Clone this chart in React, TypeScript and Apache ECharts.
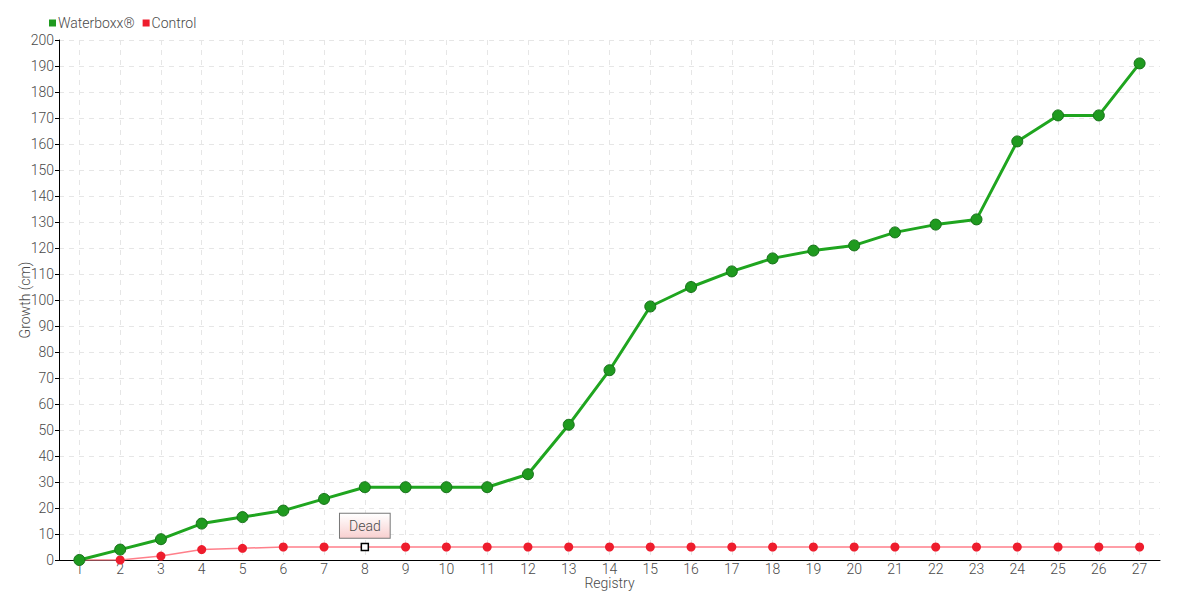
import React, { useEffect, useRef } from "react";
import * as echarts from "echarts";

const registry = ["1","2","3","4","5","6","7","8","9","10","11","12","13","14","15","16","17","18","19","20","21","22","23","24","25","26","27"];
const waterboxx = [0, 4, 8, 14, 16.5, 19, 23.5, 28, 28, 28, 28, 33, 52, 73, 97.5, 105, 111, 116, 119, 121, 126, 129, 131, 161, 171, 171, 191];
const control = [0, 0, 1.5, 4, 4.5, 5, 5, 5, 5, 5, 5, 5, 5, 5, 5, 5, 5, 5, 5, 5, 5, 5, 5, 5, 5, 5, 5];
const deadIndex = 7;
const deadLabel = "Dead";

const FONT = "Roboto, 'Noto Sans', sans-serif";
const TXT = "#4a4a4a";

export default function App() {
  const ref = useRef<HTMLDivElement>(null);
  useEffect(() => {
    const chart = echarts.init(ref.current!, null, { renderer: "svg" });
    const controlData = control.map((v, i) =>
      i === deadIndex
        ? {
            value: v,
            symbol: "rect",
            symbolSize: 7,
            itemStyle: { color: "#ffffff", borderColor: "#000000", borderWidth: 1.5 },
            label: {
              show: true,
              position: "top",
              distance: 5,
              formatter: deadLabel,
              fontFamily: FONT,
              fontSize: 14,
              fontWeight: 300,
              color: TXT,
              padding: [5, 9, 5, 9],
              borderColor: "#777",
              borderWidth: 1,
              backgroundColor: new echarts.graphic.LinearGradient(0, 0, 0, 1, [
                { offset: 0, color: "#ffffff" },
                { offset: 1, color: "#f8d0d0" },
              ]),
            },
          }
        : v
    );
    chart.setOption({
      animation: false,
      textStyle: { fontFamily: FONT },
      legend: {
        left: 44,
        top: 11,
        itemWidth: 7,
        itemHeight: 7,
        itemGap: 8,
        icon: "rect",
        itemStyle: { borderWidth: 0 },
        textStyle: { fontFamily: FONT, fontSize: 14, fontWeight: 300, color: TXT, padding: [0, 0, 0, -3] },
        data: ["Waterboxx®", "Control"],
      },
      grid: { left: 59, right: 20, top: 40, bottom: 40 },
      xAxis: {
        type: "category",
        data: registry,
        boundaryGap: true,
        name: "Registry",
        nameLocation: "middle",
        nameGap: 16,
        nameMoveOverlap: false,
        nameTextStyle: { fontFamily: FONT, fontSize: 14, fontWeight: 300, color: TXT },
        axisLine: { lineStyle: { color: "#000", width: 1 } },
        axisTick: { alignWithLabel: true, length: 4, lineStyle: { color: "#555" } },
        axisLabel: { fontFamily: FONT, fontSize: 14, fontWeight: 300, color: TXT, margin: 2, interval: 0 },
        splitLine: { show: true, alignWithLabel: true, lineStyle: { color: "#e6e6e6", type: [5, 5] } },
      },
      yAxis: {
        type: "value",
        min: 0,
        max: 200,
        interval: 10,
        name: "Growth (cm)",
        nameLocation: "middle",
        nameGap: 27,
        nameMoveOverlap: false,
        nameTextStyle: { fontFamily: FONT, fontSize: 14, fontWeight: 300, color: TXT },
        axisLine: { show: true, lineStyle: { color: "#000", width: 1 } },
        axisTick: { show: true, length: 4, lineStyle: { color: "#000" } },
        axisLabel: { fontFamily: FONT, fontSize: 14, fontWeight: 300, color: TXT, margin: 5 },
        splitLine: { show: true, lineStyle: { color: "#e6e6e6", type: [5, 5] } },
      },
      series: [
        {
          name: "Waterboxx®",
          type: "line",
          data: waterboxx,
          symbol: "circle",
          symbolSize: 11,
          color: "#1fa51f",
          lineStyle: { color: "#1fa51f", width: 3 },
          itemStyle: { color: "#1f9a1f", borderColor: "#17721a", borderWidth: 1 },
          z: 3,
        },
        {
          name: "Control",
          type: "line",
          data: controlData,
          symbol: "circle",
          symbolSize: 9,
          color: "#ee1d2d",
          lineStyle: { color: "#ff7f8a", width: 1.5 },
          itemStyle: { color: "#ee1d2d" },
          z: 2,
        },
      ],
    });
    return () => chart.dispose();
  }, []);
  return <div ref={ref} style={{ width: 1180, height: 600, position: "absolute", left: 0, top: 0 }} />;
}
